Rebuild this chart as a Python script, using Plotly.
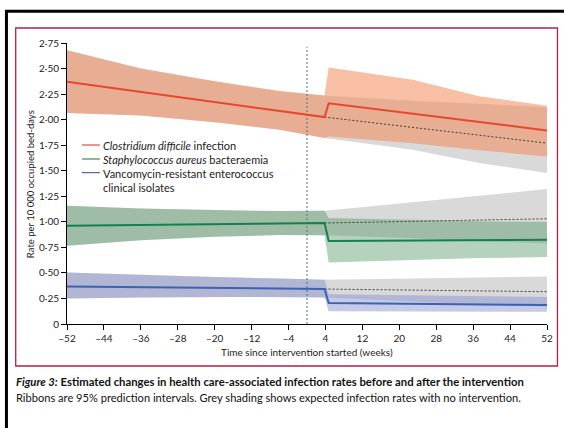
import plotly.graph_objects as go

# ---------------- data ----------------
# weeks used for band outlines
weeks_pre = [-52, -36, -20, -6, 3.8]
weeks_post = [4.7, 22.9, 37.3, 52]
weeks_cf = [3.8, 22.9, 37.3, 52]

# fitted lines (x, y)
line_x = [-52, 3.8, 4.7, 52]
cd_line = [2.37, 2.025, 2.16, 1.894]
sa_line = [0.962, 0.988, 0.812, 0.825]
vre_line = [0.368, 0.342, 0.205, 0.186]

# counterfactual (no intervention) lines
cf_x = [3.8, 52]
cd_cf = [2.025, 1.77]
sa_cf = [0.988, 1.03]
vre_cf = [0.342, 0.316]

# pre-intervention 95% prediction intervals
cd_pre_hi = [2.68, 2.50, 2.375, 2.28, 2.235]
cd_pre_lo = [2.065, 2.04, 1.975, 1.90, 1.82]
sa_pre_hi = [1.157, 1.13, 1.115, 1.105, 1.108]
sa_pre_lo = [0.766, 0.82, 0.855, 0.87, 0.868]
vre_pre_hi = [0.505, 0.48, 0.46, 0.445, 0.433]
vre_pre_lo = [0.25, 0.26, 0.265, 0.265, 0.26]

# post-intervention fitted 95% prediction intervals
cd_post_hi = [2.51, 2.39, 2.23, 2.136]
cd_post_lo = [1.835, 1.77, 1.70, 1.64]
sa_post_hi = [1.037, 1.02, 1.005, 0.998]
sa_post_lo = [0.603, 0.625, 0.645, 0.655]
vre_post_hi = [0.29, 0.28, 0.27, 0.264]
vre_post_lo = [0.125, 0.125, 0.123, 0.12]

# counterfactual (grey) intervals after intervention
cd_cf_hi = [2.235, 2.185, 2.155, 2.12]
cd_cf_lo = [1.82, 1.705, 1.575, 1.477]
sa_cf_hi = [1.108, 1.192, 1.255, 1.32]
sa_cf_lo = [0.868, 0.84, 0.81, 0.79]
vre_cf_hi = [0.433, 0.445, 0.456, 0.466]
vre_cf_lo = [0.26, 0.22, 0.19, 0.17]

intervention_x = [0, 0]
intervention_y = [0, 2.713]

x_ticks = [-52, -44, -36, -28, -20, -12, -4, 4, 12, 20, 28, 36, 44, 52]
x_ticktext = ["–52", "–44", "–36", "–28", "–20", "–12", "–4", "4", "12", "20", "28", "36", "44", "52"]
y_ticks = [0, 0.25, 0.5, 0.75, 1.0, 1.25, 1.5, 1.75, 2.0, 2.25, 2.5, 2.75]
y_ticktext = ["0", "0·25", "0·50", "0·75", "1·00", "1·25", "1·50", "1·75", "2·00", "2·25", "2·50", "2·75"]

legend_labels = ["<i>Clostridium difficile</i> infection",
                 "<i>Staphylococcus aureus</i> bacteraemia",
                 "Vancomycin-resistant enterococcus<br>clinical isolates"]

# ---------------- styling ----------------
FONT = "Lato"
W, H = 565, 428
L, R, T, B = 67, 16, 43, 104
PW, PH = W - L - R, H - T - B

def pxx(px):
    return (px - L) / PW

def pxy(py):
    return (T + PH - py) / PH

series = [
    dict(line=cd_line, cf=cd_cf, pre_hi=cd_pre_hi, pre_lo=cd_pre_lo, post_hi=cd_post_hi,
         post_lo=cd_post_lo, cf_hi=cd_cf_hi, cf_lo=cd_cf_lo,
         color="#e8462e", band="rgba(243,141,95,0.56)", leg="#e0271f"),
    dict(line=sa_line, cf=sa_cf, pre_hi=sa_pre_hi, pre_lo=sa_pre_lo, post_hi=sa_post_hi,
         post_lo=sa_post_lo, cf_hi=sa_cf_hi, cf_lo=sa_cf_lo,
         color="#13804e", band="rgba(83,153,99,0.43)", leg="#1b6b3e"),
    dict(line=vre_line, cf=vre_cf, pre_hi=vre_pre_hi, pre_lo=vre_pre_lo, post_hi=vre_post_hi,
         post_lo=vre_post_lo, cf_hi=vre_cf_hi, cf_lo=vre_cf_lo,
         color="#3c62b0", band="rgba(132,143,206,0.47)", leg="#1f4e8c"),
]

fig = go.Figure()

def poly(xs, hi, lo):
    return list(xs) + list(xs)[::-1], list(hi) + list(lo)[::-1]

# grey counterfactual bands (cover pre period as well)
for s in series:
    gx = weeks_pre + weeks_cf[1:]
    ghi = s["pre_hi"] + s["cf_hi"][1:]
    glo = s["pre_lo"] + s["cf_lo"][1:]
    px_, py_ = poly(gx, ghi, glo)
    fig.add_trace(go.Scatter(x=px_, y=py_, fill="toself", fillcolor="rgba(0,0,0,0.15)",
                             line=dict(width=0), mode="lines", hoverinfo="skip", showlegend=False))

# fitted bands
for s in series:
    fx = weeks_pre + weeks_post
    fhi = s["pre_hi"] + s["post_hi"]
    flo = s["pre_lo"] + s["post_lo"]
    px_, py_ = poly(fx, fhi, flo)
    fig.add_trace(go.Scatter(x=px_, y=py_, fill="toself", fillcolor=s["band"],
                             line=dict(width=0), mode="lines", hoverinfo="skip", showlegend=False))

# intervention marker
fig.add_trace(go.Scatter(x=intervention_x, y=intervention_y, mode="lines",
                         line=dict(color="#4d7183", width=1, dash="2px,2px"),
                         hoverinfo="skip", showlegend=False))

# counterfactual lines
for s in series:
    fig.add_trace(go.Scatter(x=cf_x, y=s["cf"], mode="lines",
                             line=dict(color="#3a3a3a", width=1, dash="2px,2px"),
                             hoverinfo="skip", showlegend=False))

# fitted lines
for s in series:
    fig.add_trace(go.Scatter(x=line_x, y=s["line"], mode="lines",
                             line=dict(color=s["color"], width=2),
                             hoverinfo="skip", showlegend=False))

shapes = []
annotations = []

# manual legend
leg_rows = [145, 159, 172.7]
for i, (s, lab) in enumerate(zip(series, legend_labels)):
    yy = pxy(leg_rows[i])
    shapes.append(dict(type="line", xref="paper", yref="paper", x0=pxx(82), x1=pxx(100),
                       y0=yy, y1=yy, line=dict(color=s["leg"], width=1)))
    annotations.append(dict(xref="paper", yref="paper", x=pxx(101), y=yy,
                            xanchor="left", yanchor="top" if i == 2 else "middle",
                            yshift=7.5 if i == 2 else 0,
                            text=lab, showarrow=False, align="left",
                            font=dict(family=FONT, size=11, color="#222")))

# frames
shapes.append(dict(type="line", xref="paper", yref="paper", x0=pxx(5), x1=pxx(566),
                   y0=pxy(11.3), y1=pxy(11.3), line=dict(color="#000", width=3)))
shapes.append(dict(type="line", xref="paper", yref="paper", x0=pxx(6.2), x1=pxx(6.2),
                   y0=pxy(10), y1=pxy(430), line=dict(color="#000", width=3)))
shapes.append(dict(type="rect", xref="paper", yref="paper", x0=pxx(15.5), x1=pxx(559.5),
                   y0=pxy(28), y1=pxy(366), line=dict(color="#b3204a", width=1.3)))

# axis titles
annotations.append(dict(xref="paper", yref="paper", x=pxx(307.5), y=pxy(352),
                        xanchor="center", yanchor="middle", showarrow=False,
                        text="Time since intervention started (weeks)",
                        font=dict(family=FONT, size=10, color="#222")))
annotations.append(dict(xref="paper", yref="paper", x=pxx(30), y=pxy(184),
                        xanchor="center", yanchor="middle", showarrow=False, textangle=-90,
                        text="Rate per 10 000 occupied bed-days",
                        font=dict(family=FONT, size=9.5, color="#222")))

# caption
annotations.append(dict(xref="paper", yref="paper", x=pxx(14), y=pxy(381.5),
                        xanchor="left", yanchor="middle", showarrow=False,
                        text="<b><i>Figure 3:</i> Estimated changes in health care-associated infection rates before and after the intervention</b>",
                        font=dict(family=FONT, size=11.3, color="#111")))
annotations.append(dict(xref="paper", yref="paper", x=pxx(14), y=pxy(397),
                        xanchor="left", yanchor="middle", showarrow=False,
                        text="Ribbons are 95% prediction intervals. Grey shading shows expected infection rates with no intervention.",
                        font=dict(family=FONT, size=11.1, color="#111")))

fig.update_layout(
    width=W, height=H,
    margin=dict(l=L, r=R, t=T, b=B),
    paper_bgcolor="white", plot_bgcolor="white",
    showlegend=False,
    shapes=shapes, annotations=annotations,
    font=dict(family=FONT, size=10, color="#222"),
)
fig.update_xaxes(range=[-52, 52], tickvals=x_ticks, ticktext=x_ticktext,
                 showgrid=False, zeroline=False, showline=True, linecolor="#000", linewidth=1,
                 ticks="outside", ticklen=5, tickcolor="#000",
                 tickfont=dict(family=FONT, size=10, color="#222"))
fig.update_yaxes(range=[0, 2.75], tickvals=y_ticks, ticktext=y_ticktext,
                 showgrid=False, zeroline=False, showline=True, linecolor="#000", linewidth=1,
                 ticks="outside", ticklen=5, tickcolor="#000",
                 tickfont=dict(family=FONT, size=10, color="#222"))

fig.write_html("out.html", config={"displayModeBar": False, "staticPlot": True},
               post_script="document.body.style.margin='0';document.body.style.overflow='hidden';")
